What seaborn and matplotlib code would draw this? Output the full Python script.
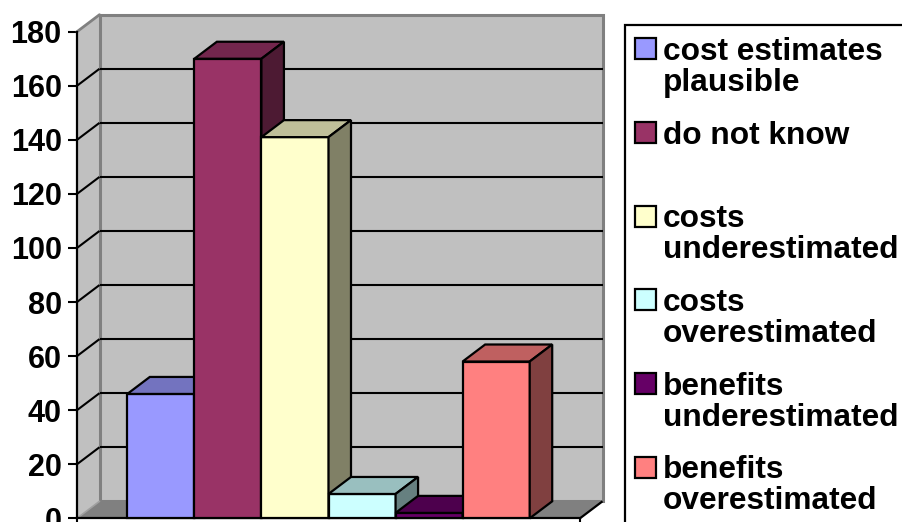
import matplotlib
matplotlib.use("Agg")
import matplotlib.pyplot as plt
import seaborn as sns
import pandas as pd
from matplotlib.patches import Polygon, Rectangle
from matplotlib.colors import to_rgb

# Survey answers (one column per answer, all in a single group)
responses = [
    "cost estimates\nplausible",
    "do not know",
    "costs\nunderestimated",
    "costs\noverestimated",
    "benefits\nunderestimated",
    "benefits\noverestimated",
]
counts = [46, 170, 141, 9, 2, 58]
face_colors = ["#9999FF", "#993366", "#FFFFCC", "#CCFFFF", "#660066", "#FF8080"]
y_ticks = [0, 20, 40, 60, 80, 100, 120, 140, 160, 180]

sns.set_theme(style="white")
plt.rcParams["font.family"] = ["Liberation Sans", "DejaVu Sans"]
plt.rcParams["text.color"] = "black"
plt.rcParams["ytick.labelcolor"] = "black"

W, H = 903, 522
fig = plt.figure(figsize=(W / 100, H / 100), dpi=100)

# front plane of the 3-D box, in pixels
left_px, right_px = 77, 580
bottom_px, top_px = 518.3, 31.7
ax = fig.add_axes([left_px / W, 1 - bottom_px / H,
                   (right_px - left_px) / W, (bottom_px - top_px) / H])

df = pd.DataFrame({"group": [""] * len(responses),
                   "response": responses,
                   "count": counts})
sns.barplot(data=df, x="group", y="count", hue="response",
            hue_order=responses, palette=dict(zip(responses, face_colors)),
            saturation=1, width=0.8, edgecolor="black", linewidth=1.6,
            legend=False, ax=ax)
bars = list(ax.patches)

ymax = y_ticks[-1]
ax.set_xlim(-0.5, 0.5)
ax.set_ylim(0, ymax)
ax.patch.set_visible(False)
ax.set_xlabel("")
ax.set_ylabel("")

# depth offset of the box (right and up), converted to data units
depth_x_px, depth_y_px = 22.5, 17
dx = depth_x_px / (right_px - left_px)
dy = depth_y_px / (bottom_px - top_px) * ymax

wall = "#C0C0C0"
edge_gray = "#808080"

# left side wall
ax.add_patch(Polygon([(-0.5, 0), (-0.5, ymax), (-0.5 + dx, ymax + dy), (-0.5 + dx, dy)],
                     closed=True, fc=wall, ec="none", zorder=0.4, clip_on=False))
# back wall
ax.add_patch(Rectangle((-0.5 + dx, dy), 1.0, ymax, fc=wall, ec=edge_gray,
                       lw=2.2, zorder=0.5, clip_on=False))
# floor
ax.add_patch(Polygon([(-0.5, 0), (0.5, 0), (0.5 + dx, dy), (-0.5 + dx, dy)],
                     closed=True, fc=edge_gray, ec="none", zorder=0.7, clip_on=False))
ax.plot([0.5, 0.5 + dx], [0, dy], color="black", lw=1.6, zorder=0.8,
        clip_on=False, solid_capstyle="butt")
ax.plot([-0.5, -0.5 + dx], [0, dy], color="#A0A0A0", lw=1.2, zorder=0.8,
        clip_on=False)
ax.plot([-0.5, -0.5 + dx], [ymax, ymax + dy], color=edge_gray, lw=2.0, zorder=0.8,
        clip_on=False)

# gridlines on the back wall and on the side wall
for t in y_ticks[1:-1]:
    ax.plot([-0.5 + dx, 0.5 + dx], [t + dy, t + dy], color="black", lw=1.5,
            zorder=1, clip_on=False, solid_capstyle="butt")
    ax.plot([-0.5, -0.5 + dx], [t, t + dy], color="black", lw=1.5,
            zorder=1, clip_on=False, solid_capstyle="butt")


def shade(color, f):
    r, g, b = to_rgb(color)
    return (r * f, g * f, b * f)


# give each column a top and a right face
for i, (p, c) in enumerate(zip(bars, face_colors)):
    x, w, h = p.get_x(), p.get_width(), p.get_height()
    base = 10 + 3 * i
    p.set_zorder(base)
    p.set_clip_on(False)
    ax.add_patch(Polygon([(x, h), (x + w, h), (x + w + dx, h + dy), (x + dx, h + dy)],
                         closed=True, fc=shade(c, 0.75), ec="black", lw=1.6,
                         zorder=base + 1, clip_on=False))
    ax.add_patch(Polygon([(x + w, 0), (x + w + dx, dy), (x + w + dx, h + dy), (x + w, h)],
                         closed=True, fc=shade(c, 0.5), ec="black", lw=1.6,
                         zorder=base + 2, clip_on=False))

# axes lines and ticks
for s in ["top", "right"]:
    ax.spines[s].set_visible(False)
for s in ["left", "bottom"]:
    ax.spines[s].set_color("black")
    ax.spines[s].set_linewidth(1.6)
    ax.spines[s].set_zorder(5)
ax.set_yticks(y_ticks)
ax.set_yticklabels([str(t) for t in y_ticks], fontsize=22, fontweight="bold",
                   color="black")
ax.tick_params(axis="y", direction="out", length=6.7, width=1.5, color="black",
               labelcolor="black", pad=4.3, left=True)
ax.set_xticks([-0.5, 0.5])
ax.set_xticklabels(["", ""])
ax.tick_params(axis="x", direction="out", length=5, width=1.5, color="black",
               bottom=True)

# legend box on the right
fig.patches.append(Rectangle((625 / W, -0.2), 1.0, 1.2 - 25 / H, fill=False,
                             ec="black", lw=1.6, transform=fig.transFigure,
                             figure=fig))
entry_top, entry_step, marker = 38.3, 83.7, 21
line_gap = 31
for i, (label, c) in enumerate(zip(responses, face_colors)):
    top = entry_top + entry_step * i
    fig.patches.append(Rectangle((635 / W, 1 - (top + marker) / H), marker / W,
                                 marker / H, fc=c, ec="black", lw=1.6,
                                 transform=fig.transFigure, figure=fig))
    for k, line in enumerate(label.split("\n")):
        fig.text(663 / W, 1 - (top + 21.5 + line_gap * k) / H, line,
                 ha="left", va="baseline", fontsize=22.8, fontweight="bold",
                 color="black")

fig.savefig("out.png", dpi=100)
